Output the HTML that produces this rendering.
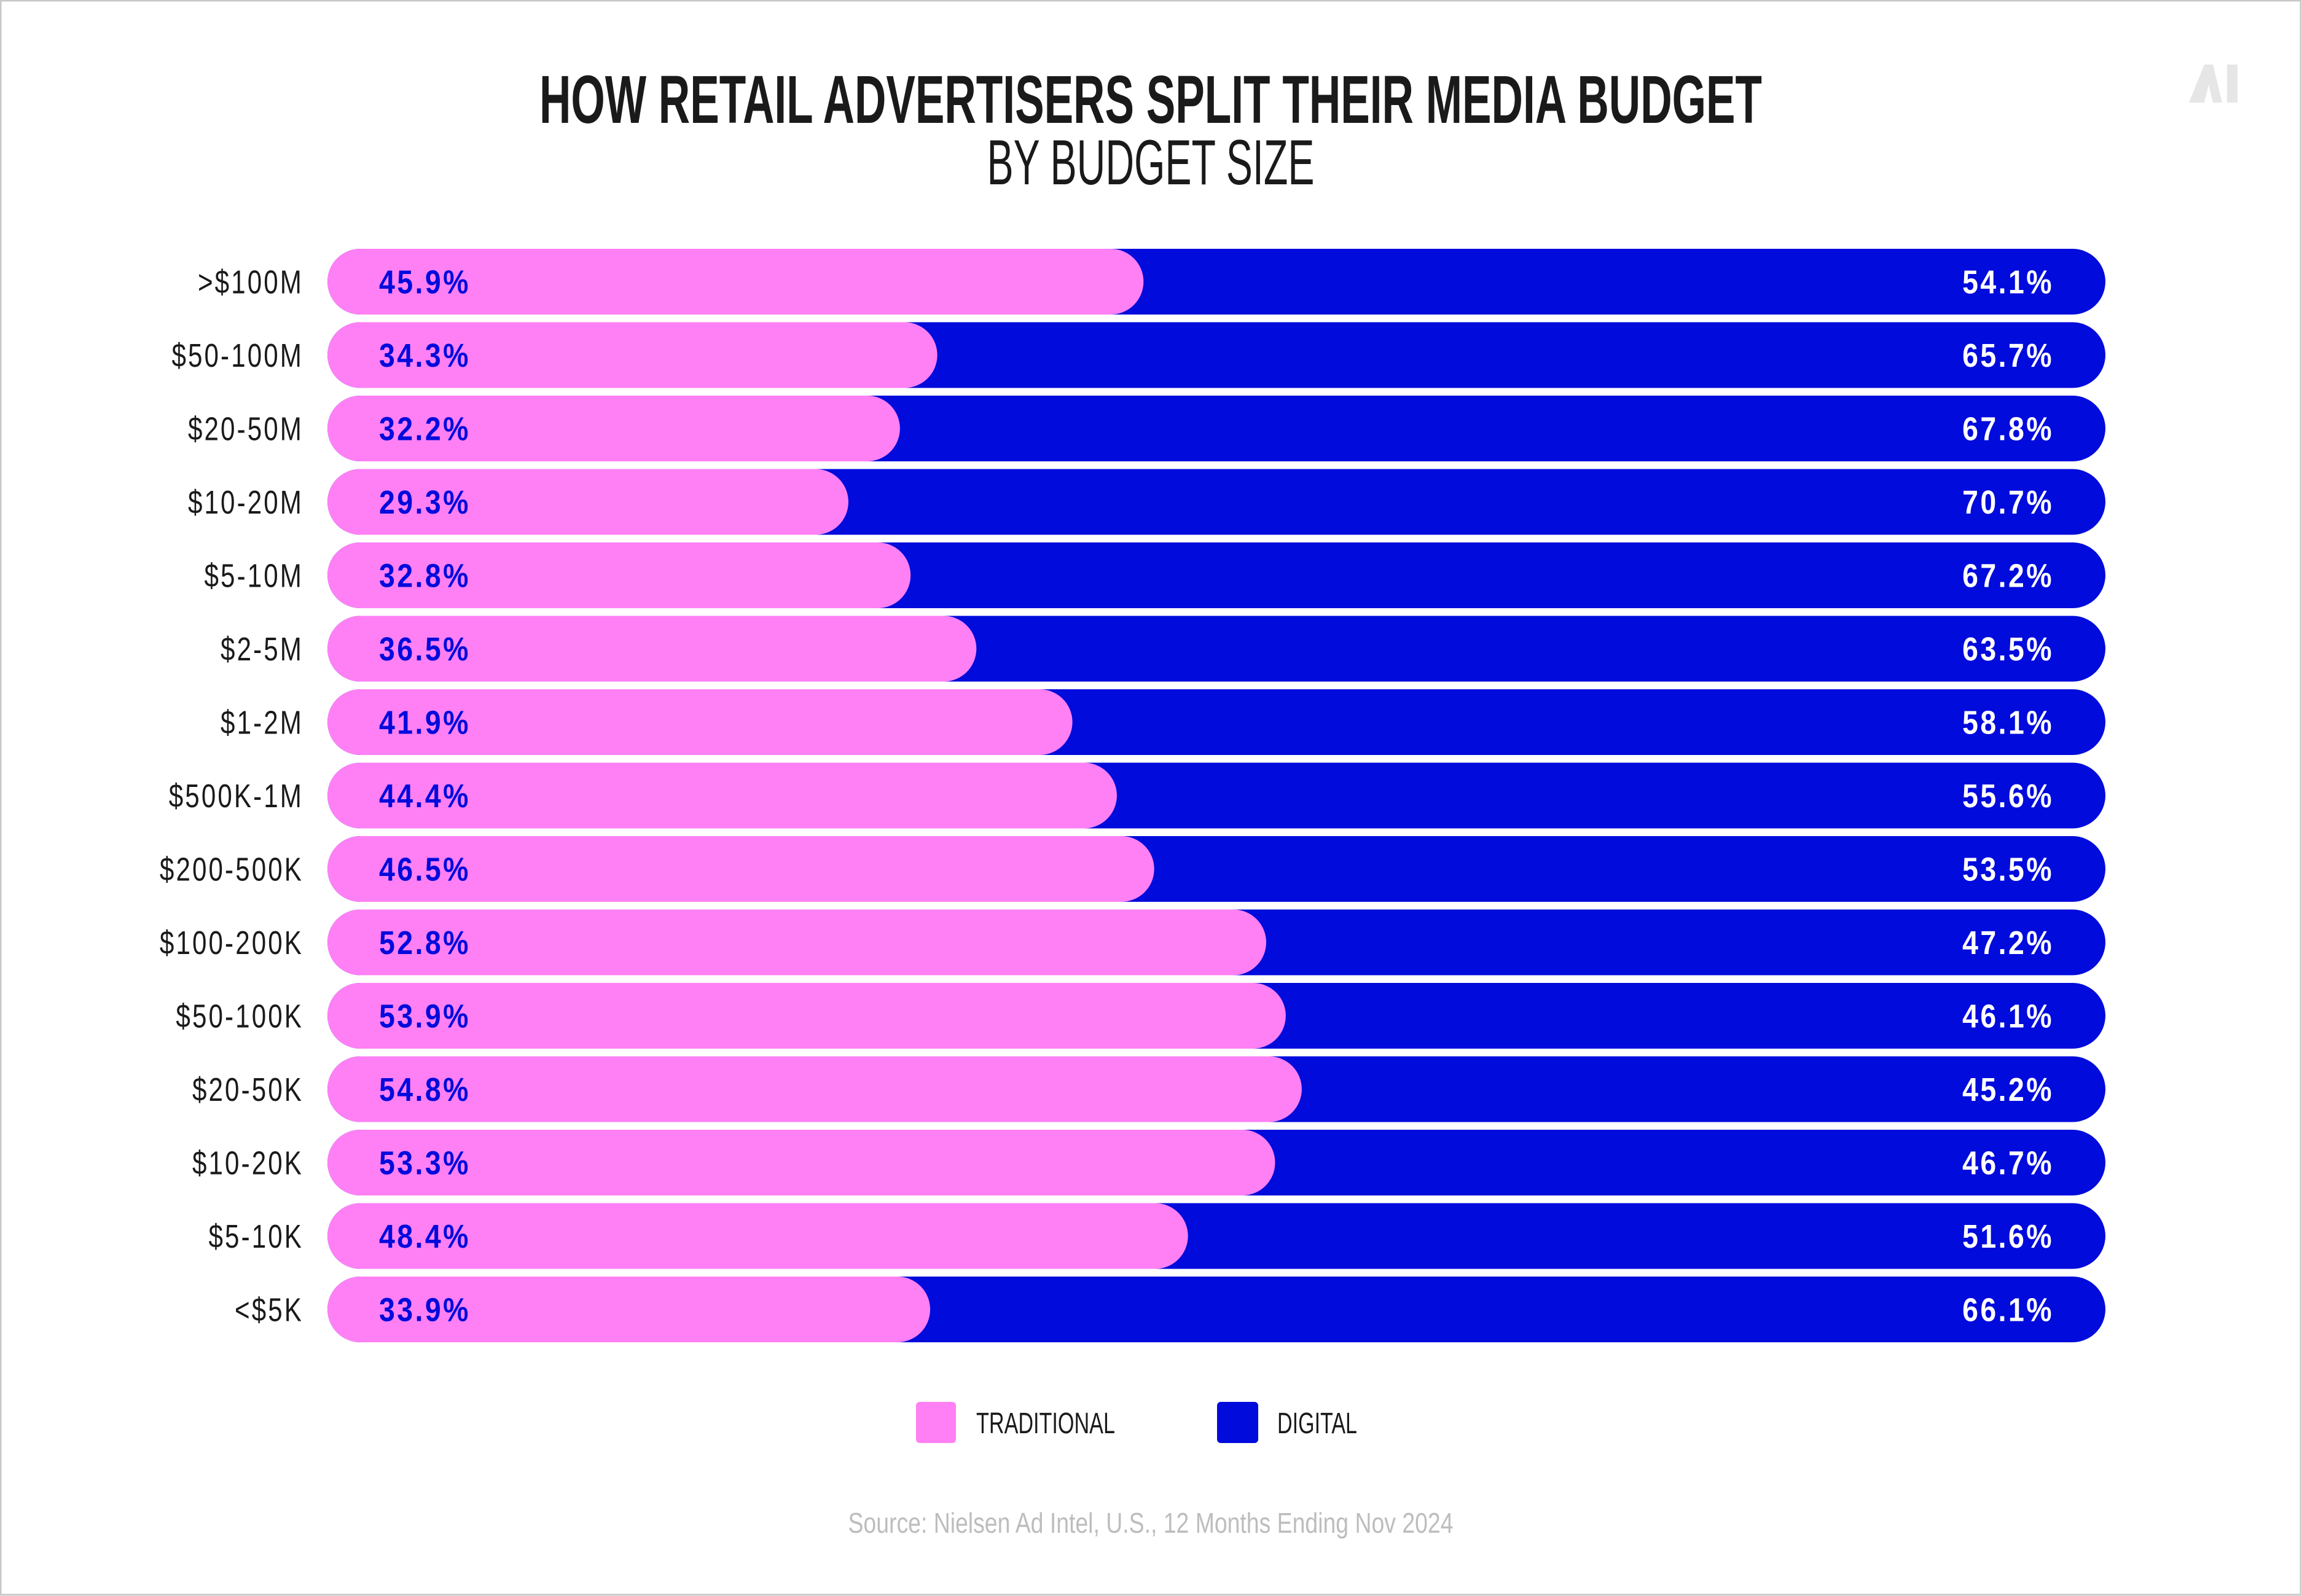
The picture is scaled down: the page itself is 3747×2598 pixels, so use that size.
<!DOCTYPE html>
<html><head><meta charset="utf-8"><style>
html,body{margin:0;padding:0;background:#fff}
svg{display:block}
text{font-family:"Liberation Sans Narrow","Liberation Sans",sans-serif}
</style></head><body>
<svg id="chart" width="3747" height="2598" viewBox="0 0 3747 2598" xmlns="http://www.w3.org/2000/svg">
<rect x="1" y="1" width="3744" height="2595" fill="#fff" stroke="#c8c8c8" stroke-width="3"/>
<text x="1873" y="200" text-anchor="middle" font-size="110" font-weight="bold" fill="#1a1a1a" textLength="1990" lengthAdjust="spacingAndGlyphs">HOW RETAIL ADVERTISERS SPLIT THEIR MEDIA BUDGET</text>
<text x="1873" y="300" text-anchor="middle" font-size="104" fill="#1a1a1a" textLength="533" lengthAdjust="spacingAndGlyphs">BY BUDGET SIZE</text>
<g fill="#e6e6e6">
<polygon points="3563,167 3588,105 3602,105 3617,167 3602,167 3595,138 3588,167"/>
<rect x="3625" y="105" width="17" height="62"/>
</g>
<g id="bars"></g>
<g>
<rect x="1491" y="2282" width="65" height="67" rx="6" fill="#FF80F4"/>
<text x="1589" y="2333" font-size="48" fill="#1a1a1a" textLength="226" lengthAdjust="spacingAndGlyphs">TRADITIONAL</text>
<rect x="1981" y="2282" width="67" height="67" rx="6" fill="#000BDC"/>
<text x="2079" y="2333" font-size="48" fill="#1a1a1a" textLength="130" lengthAdjust="spacingAndGlyphs">DIGITAL</text>
</g>
<text x="1873" y="2495" text-anchor="middle" font-size="46" fill="#bdbdbd" textLength="985" lengthAdjust="spacingAndGlyphs">Source: Nielsen Ad Intel, U.S., 12 Months Ending Nov 2024</text>
</svg>
<script>
const categories = [">$100M","$50-100M","$20-50M","$10-20M","$5-10M","$2-5M","$1-2M","$500K-1M","$200-500K","$100-200K","$50-100K","$20-50K","$10-20K","$5-10K","<$5K"];
const traditional = [45.9,34.3,32.2,29.3,32.8,36.5,41.9,44.4,46.5,52.8,53.9,54.8,53.3,48.4,33.9];
const digital = [54.1,65.7,67.8,70.7,67.2,63.5,58.1,55.6,53.5,47.2,46.1,45.2,46.7,51.6,66.1];

const NS = "http://www.w3.org/2000/svg";
const x0 = 533, x1 = 3427, top0 = 405, pitch = 119.5, bh = 107;
function xScale(v){ return x0 + v / 100 * (x1 - x0); }
function yScale(i){ return top0 + i * pitch; }
const g = document.getElementById("bars");
function mk(tag, attrs){ const e = document.createElementNS(NS, tag); for (const k in attrs) e.setAttribute(k, attrs[k]); return e; }
categories.forEach((c, i) => {
  const y = yScale(i), cy = y + bh / 2;
  const total = traditional[i] + digital[i];
  const lbl = mk("text", {x: 0, y: 0, transform: "translate(494," + (cy + 19) + ") scale(0.78,1)", "text-anchor": "end", "font-size": 54, fill: "#1a1a1a", "letter-spacing": 4});
  
  
  lbl.textContent = c; g.appendChild(lbl);
  const d = mk("rect", {x: x0, y: y, width: xScale(total) - x0, height: bh, rx: bh / 2, fill: "#000BDC"});
  
  
  g.appendChild(d);
  const t = mk("rect", {x: x0, y: y, width: xScale(traditional[i]) - x0, height: bh, rx: bh / 2, fill: "#FF80F4"});
  
  
  g.appendChild(t);
  const tv = mk("text", {x: 0, y: 0, transform: "translate(617," + (cy + 19) + ") scale(0.86,1)", "font-size": 54, "font-weight": "bold", fill: "#000BDC", "letter-spacing": 4});
  
  
  tv.textContent = traditional[i].toFixed(1) + "%"; g.appendChild(tv);
  const dv = mk("text", {x: 0, y: 0, transform: "translate(3343," + (cy + 19) + ") scale(0.86,1)", "text-anchor": "end", "font-size": 54, "font-weight": "bold", fill: "#fff", "letter-spacing": 4});
  
  
  dv.textContent = digital[i].toFixed(1) + "%"; g.appendChild(dv);
});
</script>
</body></html>
